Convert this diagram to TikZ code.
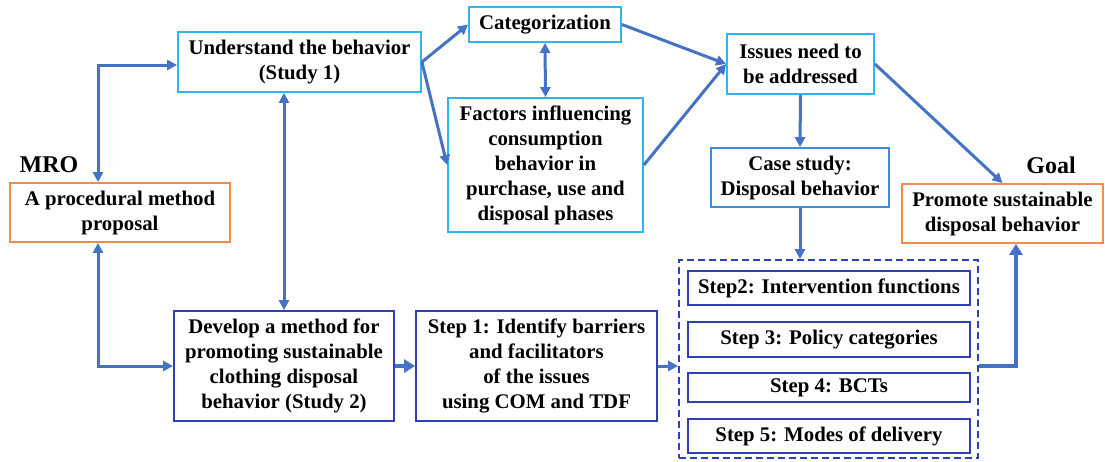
\documentclass[tikz,border=0pt]{standalone}
\usepackage{fontspec}
\setmainfont{Liberation Serif}
\usetikzlibrary{arrows.meta}
\definecolor{arrowblue}{HTML}{4472C4}
\definecolor{cyanline}{HTML}{2EB6F2}
\definecolor{midblue}{HTML}{3D8ED6}
\definecolor{darkblue}{HTML}{2F3FB5}
\definecolor{orangeline}{HTML}{F28C4E}
\tikzset{
  box/.style={draw, line width=1.8pt, fill=white, align=center, inner sep=0pt,
    font=\bfseries\fontsize{20.8}{25}\selectfont},
  cyanbox/.style={box, draw=cyanline},
  midbox/.style={box, draw=midblue},
  darkbox/.style={box, draw=darkblue},
  orangebox/.style={box, draw=orangeline},
  stepbox/.style={box, draw=darkblue, minimum width=282pt},
  label/.style={font=\bfseries\fontsize{24}{28}\selectfont, inner sep=0pt},
  flow/.style={draw=arrowblue, line width=3pt,
    -{Triangle[length=10pt,width=10pt]}},
  twoway/.style={draw=arrowblue, line width=3pt,
    {Triangle[length=10pt,width=10pt]}-{Triangle[length=10pt,width=10pt]}},
  thickflow/.style={draw=arrowblue, line width=4.5pt,
    -{Triangle[length=11pt,width=13pt]}},
}
\begin{document}
\begin{tikzpicture}[x=1pt,y=-1pt]
\useasboundingbox (0,0) rectangle (1105,461);

% Study 1 branch
\node[cyanbox, minimum width=243pt, minimum height=60pt] (und) at (299.5,62)
  {Understand the behavior\\(Study 1)};
\node[cyanbox, minimum width=152pt, minimum height=35pt] (cat) at (545,24.5)
  {Categorization};
\node[cyanbox, minimum width=195pt, minimum height=134pt] (fac) at (545.5,165)
  {Factors influencing\\consumption\\behavior in\\purchase, use and\\disposal phases};
\node[cyanbox, minimum width=147pt, minimum height=60pt] (iss) at (800.5,64)
  {Issues need to\\be addressed};
\node[midbox, minimum width=178pt, minimum height=59pt] (case) at (800,177.5)
  {Case study:\\Disposal behavior};

% MRO and goal
\node[orangebox, minimum width=220pt, minimum height=59pt] (proc) at (120,212.5)
  {A procedural method\\proposal};
\node[label] (mro) at (49,165) {MRO};
\node[orangebox, minimum width=201pt, minimum height=59pt] (goal) at (1002.5,213.5)
  {Promote sustainable\\disposal behavior};
\node[label] (goallabel) at (1051,165) {Goal};

% Study 2 branch
\node[darkbox, minimum width=220pt, minimum height=110pt] (dev) at (284,366)
  {Develop a method for\\promoting sustainable\\clothing disposal\\behavior (Study 2)};
\node[darkbox, minimum width=241pt, minimum height=110pt] (st1) at (536.5,366)
  {Step 1: Identify barriers\\and facilitators\\of the issues\\using COM and TDF};

% Steps 2--5 group
\node[draw=darkblue, line width=1.8pt, dash pattern=on 7pt off 4pt,
  minimum width=299pt, minimum height=198pt, inner sep=0pt] (cont) at (828.5,359) {};
\node[stepbox, minimum height=34pt] (s2) at (829,288) {Step2: Intervention functions};
\node[stepbox, minimum height=35pt] (s3) at (829,339.5) {Step 3: Policy categories};
\node[stepbox, minimum height=29pt] (s4) at (829,387.5) {Step 4: BCTs};
\node[stepbox, minimum height=34pt] (s5) at (829,436) {Step 5: Modes of delivery};

% helper coordinates for the elbow connectors
\coordinate (lx) at (98,0);
\coordinate (gx) at (1016,0);
\coordinate (rowy) at (0,366);
\coordinate (topy) at (0,65);

% connectors
\draw[twoway] (und.west |- topy) -| (proc.north -| lx);
\draw[twoway] (proc.south -| lx) |- (dev.west);
\draw[twoway] (dev.north |- und.south) -- (dev.north);
\draw[flow] (und.east) -- (cat.west);
\draw[flow] (und.east) -- (fac.west);
\draw[twoway] (cat.south) -- (fac.north);
\draw[flow] (cat.east) -- (iss.west);
\draw[flow] (fac.east) -- (iss.west);
\draw[flow] (iss.south) -- (case.north);
\draw[flow] (iss.east) -- (goal.north);
\draw[flow] (case.south) -- (case.south |- cont.north);
\draw[thickflow] (dev.east |- rowy) -- (st1.west |- rowy);
\draw[flow] (st1.east |- rowy) -- (cont.west |- rowy);
\draw[thickflow] (cont.east |- rowy) -| (goal.south -| gx);
\end{tikzpicture}
\end{document}
